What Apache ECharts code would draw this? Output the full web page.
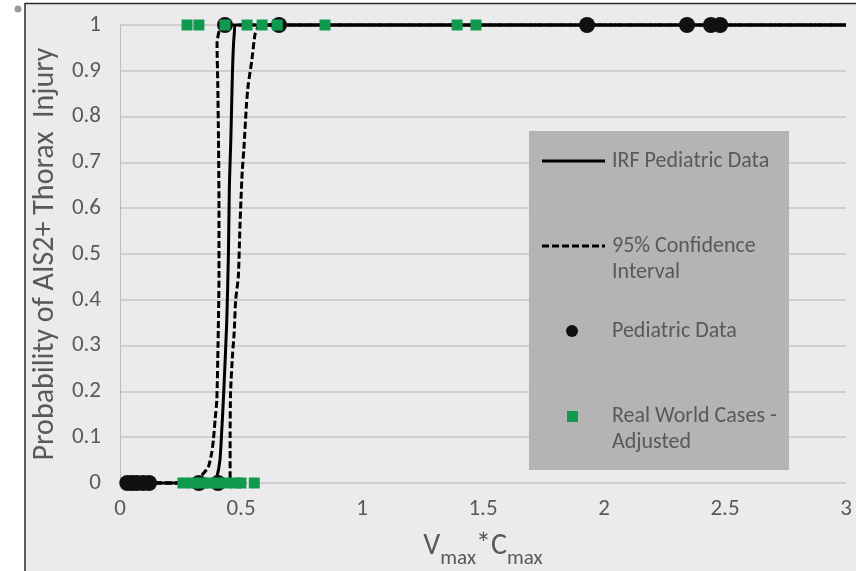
<!DOCTYPE html>
<html>
<head>
<meta charset="utf-8">
<script src="https://cdn.jsdelivr.net/npm/echarts@6/dist/echarts.min.js"></script>
<style>
html,body{margin:0;padding:0;background:#ffffff;}
#c{width:856px;height:571px;}
</style>
</head>
<body>
<div id="c"></div>
<script>
// ---- data ----
const xTicks = [0, 0.5, 1, 1.5, 2, 2.5, 3];
const yTicks = [0, 0.1, 0.2, 0.3, 0.4, 0.5, 0.6, 0.7, 0.8, 0.9, 1];

// IRF Pediatric Data (solid curve)
const irfX = [0.02, 0.385, 0.400, 0.413, 0.420, 0.427, 0.441, 0.448, 0.452, 0.458, 0.462, 0.466, 0.472, 0.480, 3];
const irfY = [0, 0, 0.013, 0.05, 0.11, 0.18, 0.35, 0.5, 0.65, 0.75, 0.84, 0.92, 0.98, 1, 1];

// 95% Confidence Interval - lower bound (left dashed)
const ciLowX = [0.02, 0.300, 0.317, 0.338, 0.365, 0.379, 0.386, 0.393, 0.400, 0.405, 0.409, 0.409, 0.407, 0.404, 0.401, 0.413, 0.430, 3];
const ciLowY = [0, 0, 0.007, 0.017, 0.035, 0.066, 0.094, 0.138, 0.18, 0.30, 0.45, 0.60, 0.75, 0.87, 0.96, 0.993, 1, 1];

// 95% Confidence Interval - upper bound (right dashed)
const ciHighX = [0.02, 0.455, 0.455, 0.457, 0.465, 0.472, 0.478, 0.489, 0.495, 0.500, 0.505, 0.512, 0.523, 0.530, 0.544, 0.558, 0.570, 0.590, 3];
const ciHighY = [0, 0, 0.10, 0.20, 0.28, 0.33, 0.40, 0.45, 0.55, 0.62, 0.68, 0.73, 0.83, 0.87, 0.92, 0.98, 0.995, 1, 1];

// Pediatric Data (black circles)
const pedX = [0.03, 0.05, 0.07, 0.095, 0.12, 0.326, 0.405, 0.434, 0.657, 1.93, 2.343, 2.442, 2.48];
const pedY = [0, 0, 0, 0, 0, 0, 0, 1, 1, 1, 1, 1, 1];

// Real World Cases - Adjusted (green squares)
const rwX = [0.26, 0.30, 0.34, 0.37, 0.40, 0.44, 0.48, 0.50, 0.555, 0.277, 0.326, 0.434, 0.525, 0.587, 0.65, 0.847, 1.393, 1.471];
const rwY = [0, 0, 0, 0, 0, 0, 0, 0, 0, 1, 1, 1, 1, 1, 1, 1, 1, 1];

const seriesNames = ['IRF Pediatric Data', '95% Confidence Interval', 'Pediatric Data', 'Real World Cases - Adjusted'];

function pairs(xs, ys) { return xs.map((x, i) => [x, ys[i]]); }

const FONT = 'Carlito, "Open Sans", sans-serif';
const TXT = '#595959';
const GREEN = '#119a4f';
const LF = '22px ' + FONT;

const chart = echarts.init(document.getElementById('c'), null, {renderer: 'canvas'});

// legend drawn as graphic (icons aligned with first text line, like the reference)
const LX = 529, LY = 131, LW = 260, LH = 339;
const legendGraphic = [
  {type: 'rect', shape: {x: LX, y: LY, width: LW, height: LH}, style: {fill: '#b4b4b4'}, z: 10},
  {type: 'line', shape: {x1: 542, y1: 161, x2: 605, y2: 161}, style: {stroke: '#000', lineWidth: 3}, z: 11},
  {type: 'text', x: 612, y: 161, style: {text: seriesNames[0], fill: TXT, font: LF, verticalAlign: 'middle'}, z: 11},
  {type: 'line', shape: {x1: 542, y1: 246, x2: 605, y2: 246}, style: {stroke: '#000', lineWidth: 3, lineDash: [7, 3]}, z: 11},
  {type: 'text', x: 612, y: 246, style: {text: '95% Confidence', fill: TXT, font: LF, verticalAlign: 'middle'}, z: 11},
  {type: 'text', x: 612, y: 272, style: {text: 'Interval', fill: TXT, font: LF, verticalAlign: 'middle'}, z: 11},
  {type: 'circle', shape: {cx: 572, cy: 331, r: 6}, style: {fill: '#111'}, z: 11},
  {type: 'text', x: 612, y: 331, style: {text: seriesNames[2], fill: TXT, font: LF, verticalAlign: 'middle'}, z: 11},
  {type: 'rect', shape: {x: 567, y: 411, width: 11, height: 11}, style: {fill: GREEN}, z: 11},
  {type: 'text', x: 612, y: 416, style: {text: 'Real World Cases -', fill: TXT, font: LF, verticalAlign: 'middle'}, z: 11},
  {type: 'text', x: 612, y: 442, style: {text: 'Adjusted', fill: TXT, font: LF, verticalAlign: 'middle'}, z: 11}
];

const frameGraphic = [
  {type: 'rect', shape: {x: 25, y: 3.5, width: 840, height: 580}, style: {fill: '#ebebeb', stroke: '#2a2a2a', lineWidth: 1.5}, z: -10, silent: true},
  {type: 'circle', shape: {cx: 18, cy: 9, r: 3.5}, style: {fill: '#9a9a9a'}, z: -10, silent: true}
];

const option = {
  backgroundColor: '#ffffff',
  animation: false,
  textStyle: {fontFamily: FONT},
  grid: {left: 120, right: 10, top: 25, bottom: 88, containLabel: false, outerBoundsMode: 'none'},
  xAxis: {
    type: 'value', min: 0, max: 3, interval: 0.5,
    name: '{v|V}{s|max}{v|*C}{s|max}',
    nameLocation: 'middle', nameGap: 46,
    nameTextStyle: {
      rich: {
        v: {fontSize: 30, color: TXT, fontFamily: FONT, verticalAlign: 'bottom', lineHeight: 32},
        s: {fontSize: 21, color: TXT, fontFamily: FONT, verticalAlign: 'bottom', lineHeight: 22, padding: [0, 0, -8, 0]}
      }
    },
    axisLine: {show: false},
    axisTick: {show: false},
    splitLine: {show: false},
    axisLabel: {color: TXT, fontSize: 23, fontFamily: FONT, margin: 15,
      formatter: v => { const t = xTicks.find(k => Math.abs(k - v) < 1e-9); return t === undefined ? '' : String(t); }}
  },
  yAxis: {
    type: 'value', min: 0, max: 1, interval: 0.1,
    name: 'Probability of AIS2+ Thorax  Injury',
    nameLocation: 'middle', nameGap: 59,
    nameTextStyle: {color: TXT, fontSize: 30, fontFamily: FONT},
    axisLine: {show: true, lineStyle: {color: '#bdbdbd', width: 1}},
    axisTick: {show: false},
    splitLine: {show: true, lineStyle: {color: '#c6c6c6', width: 1.6}},
    axisLabel: {color: TXT, fontSize: 23, fontFamily: FONT, margin: 19,
      formatter: v => { const t = yTicks.find(k => Math.abs(k - v) < 1e-9); return t === undefined ? '' : String(t); }}
  },
  graphic: frameGraphic.concat(legendGraphic),
  series: [
    {name: seriesNames[0], type: 'line', data: pairs(irfX, irfY), showSymbol: false, symbol: 'none', smooth: 0.2, clip: false,
      lineStyle: {color: '#000', width: 3}, z: 3},
    {name: seriesNames[1], type: 'line', data: pairs(ciLowX, ciLowY), showSymbol: false, symbol: 'none', smooth: 0.2, clip: false,
      lineStyle: {color: '#000', width: 3, type: [7, 3]}, z: 3},
    {name: seriesNames[1] + ' (upper)', type: 'line', data: pairs(ciHighX, ciHighY), showSymbol: false, symbol: 'none', smooth: 0.2, clip: false,
      lineStyle: {color: '#000', width: 3, type: [7, 3]}, z: 3},
    {name: seriesNames[2], type: 'scatter', data: pairs(pedX, pedY), symbol: 'circle', symbolSize: 16, clip: false,
      itemStyle: {color: '#111', opacity: 1}, z: 4},
    {name: seriesNames[3], type: 'scatter', data: pairs(rwX, rwY), symbol: 'rect', symbolSize: 11, clip: false,
      itemStyle: {color: GREEN, opacity: 1}, z: 5}
  ]
};
chart.setOption(option);
</script>
</body>
</html>
